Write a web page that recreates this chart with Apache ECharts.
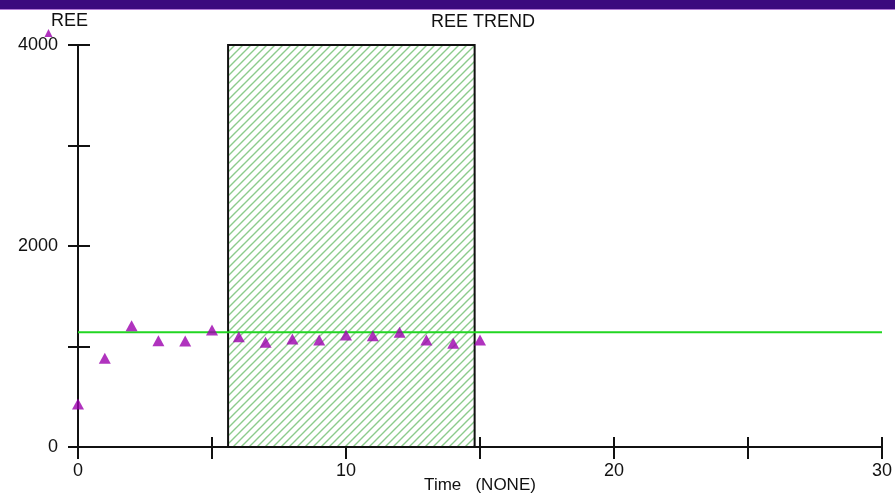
<!DOCTYPE html>
<html>
<head>
<meta charset="utf-8">
<title>REE TREND</title>
<script src="https://cdn.jsdelivr.net/npm/echarts@6/dist/echarts.min.js"></script>
<style>
  html, body { margin: 0; padding: 0; background: #fff; }
  #chart { width: 895px; height: 497px; }
</style>
</head>
<body>
<div id="chart"></div>
<script>
// REE readings over time
const timeValues = [0, 1, 2, 3, 4, 5, 6, 7, 8, 9, 10, 11, 12, 13, 14, 15];
const reeValues  = [428, 883, 1207, 1058, 1055, 1164, 1098, 1042, 1075, 1065, 1114, 1108, 1141, 1065, 1032, 1065];
// a reading that sits outside the plotted time range
const offRangePoint = [-1.1, 4120];
// trend level and the shaded trend window
const trendLevel = 1141;
const trendSpan = [0, 30];
const windowSpan = [5.6, 14.8];
const windowRange = [0, 4000];
// axis ticks and labels
const xTicks = [0, 5, 10, 15, 20, 25, 30];
const xLabeled = [0, 10, 20, 30];
const yTicks = [0, 1000, 2000, 3000, 4000];
const yLabeled = [0, 2000, 4000];

const FONT = 'Liberation Sans';

// diagonal green hatch on white
function hatchPattern() {
  const s = 8;
  const c = document.createElement('canvas');
  c.width = s; c.height = s;
  const g = c.getContext('2d');
  g.fillStyle = '#ffffff';
  g.fillRect(0, 0, s, s);
  g.strokeStyle = '#8ccb8c';
  g.lineWidth = 1.4;
  g.beginPath();
  g.moveTo(-1, s + 1); g.lineTo(s + 1, -1);
  g.moveTo(-1, 1); g.lineTo(1, -1);
  g.moveTo(s - 1, s + 1); g.lineTo(s + 1, s - 1);
  g.stroke();
  return { image: c, repeat: 'repeat' };
}

const chart = echarts.init(document.getElementById('chart'), null, { renderer: 'canvas' });

const axisLine = { show: true, onZero: false, lineStyle: { color: '#111', width: 2 } };
const tickStyle = { color: '#111', width: 2 };

const xBase = {
  type: 'value', min: xTicks[0], max: xTicks[xTicks.length - 1],
  interval: xTicks[1] - xTicks[0], position: 'bottom', splitLine: { show: false }
};
const yBase = {
  type: 'value', min: yTicks[0], max: yTicks[yTicks.length - 1],
  interval: yTicks[1] - yTicks[0], position: 'left', splitLine: { show: false }
};

const option = {
  animation: false,
  backgroundColor: '#ffffff',
  grid: { left: 78, right: 13, top: 45, bottom: 50, containLabel: false, outerBoundsMode: 'none' },
  xAxis: [
    Object.assign({}, xBase, {
      axisLine: axisLine,
      axisTick: { show: true, inside: false, length: 12, lineStyle: tickStyle },
      axisLabel: {
        color: '#111', fontFamily: FONT, fontSize: 18, margin: 15,
        formatter: v => (xLabeled.indexOf(v) >= 0 ? String(v) : '')
      },
      name: 'Time   (NONE)', nameLocation: 'middle', nameGap: 30, nameMoveOverlap: false,
      nameTextStyle: { color: '#111', fontFamily: FONT, fontSize: 17 }
    }),
    Object.assign({}, xBase, {
      axisLine: { show: false },
      axisTick: { show: true, inside: true, length: 10, lineStyle: tickStyle },
      axisLabel: { show: false }
    })
  ],
  yAxis: [
    Object.assign({}, yBase, {
      axisLine: axisLine,
      axisTick: { show: true, inside: false, length: 10, lineStyle: tickStyle },
      axisLabel: {
        color: '#111', fontFamily: FONT, fontSize: 18, margin: 20,
        formatter: v => (yLabeled.indexOf(v) >= 0 ? String(v) : '')
      }
    }),
    Object.assign({}, yBase, {
      axisLine: { show: false },
      axisTick: { show: true, inside: true, length: 12, lineStyle: tickStyle },
      axisLabel: { show: false }
    })
  ],
  graphic: [
    { type: 'rect', left: 0, top: 0, shape: { width: 895, height: 9 }, style: { fill: '#3b0a7e' }, z: 100 },
    { type: 'rect', left: 0, top: 9, shape: { width: 895, height: 1 }, style: { fill: '#b27ad6' }, z: 100 },
    {
      type: 'text', left: 51, top: 12, z: 100,
      style: { text: 'REE', fill: '#111', font: '18px "' + FONT + '"' }
    },
    {
      type: 'text', x: 483, y: 22, z: 100,
      style: { text: 'REE TREND', fill: '#111', font: '18px "' + FONT + '"', align: 'center', verticalAlign: 'middle' }
    }
  ],
  series: [
    {
      name: 'trend', type: 'line', z: 1,
      xAxisIndex: 0, yAxisIndex: 0,
      data: trendSpan.map(t => [t, trendLevel]),
      symbol: 'none',
      lineStyle: { color: '#22d622', width: 2 }
    },
    {
      name: 'window', type: 'scatter', z: 2,
      xAxisIndex: 0, yAxisIndex: 0,
      data: [],
      markArea: {
        silent: true,
        itemStyle: { color: hatchPattern(), borderColor: '#111', borderWidth: 2, opacity: 1 },
        data: [[
          { coord: [windowSpan[0], windowRange[0]] },
          { coord: [windowSpan[1], windowRange[1]] }
        ]]
      }
    },
    {
      name: 'REE', type: 'scatter', z: 3,
      xAxisIndex: 0, yAxisIndex: 0,
      data: timeValues.map((t, i) => [t, reeValues[i]]),
      symbol: 'triangle', symbolSize: [12, 11],
      itemStyle: { color: '#9c00ae' }
    },
    {
      name: 'REE off range', type: 'scatter', z: 3, clip: false,
      xAxisIndex: 0, yAxisIndex: 0,
      data: [offRangePoint],
      symbol: 'triangle', symbolSize: [8, 8],
      itemStyle: { color: '#9c00ae' }
    }
  ]
};

chart.setOption(option);
</script>
</body>
</html>
